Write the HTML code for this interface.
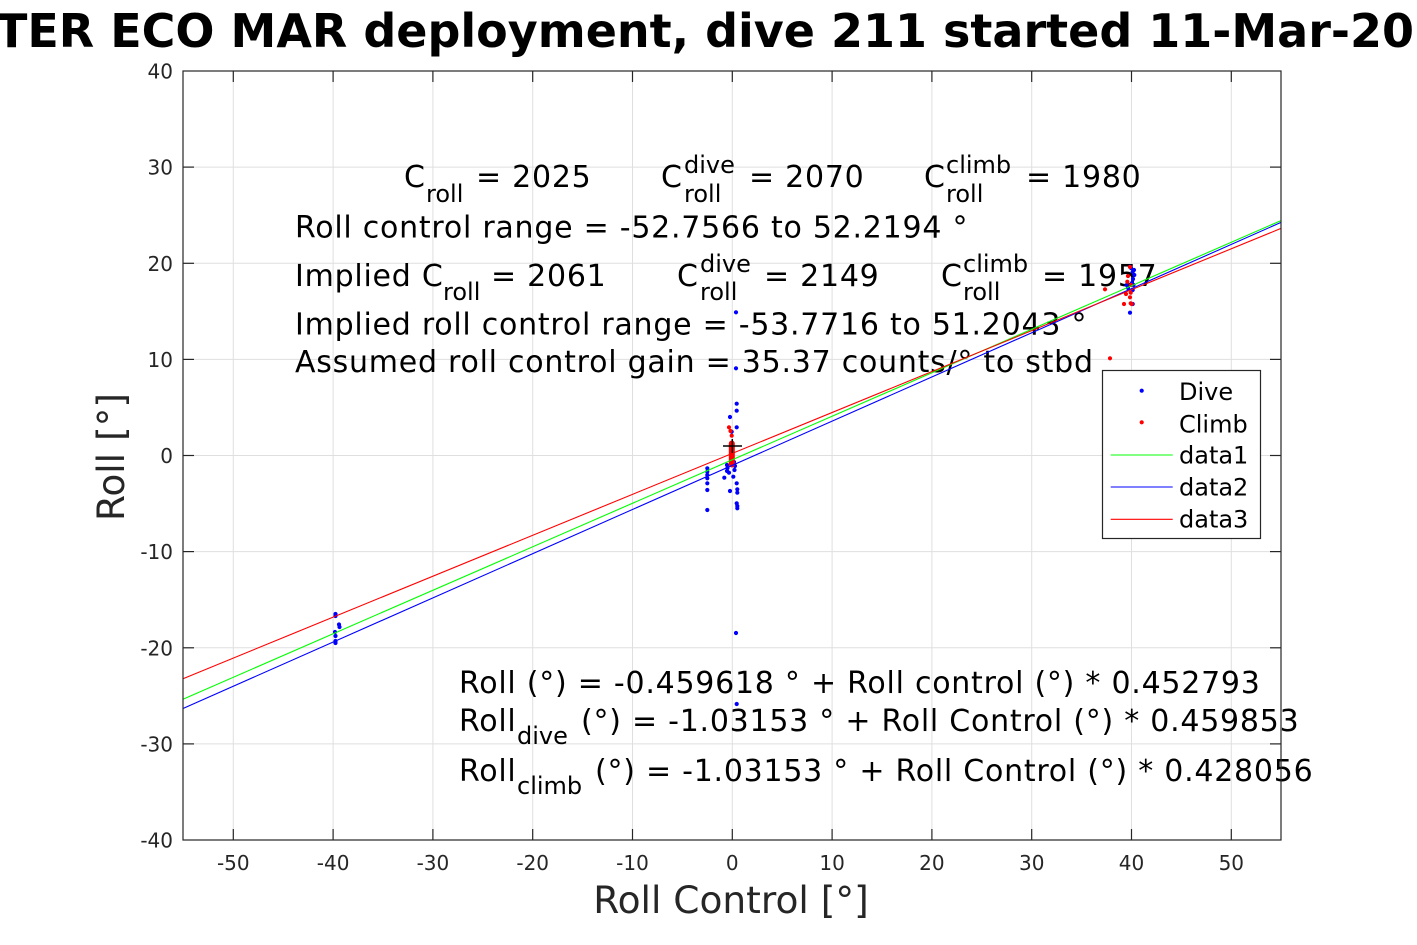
<!DOCTYPE html>
<html><head><meta charset="utf-8"><style>
html,body{margin:0;padding:0;background:#fff;}
svg{display:block;}
.t{font-family:"DejaVu Sans","Liberation Sans",sans-serif;}
.ann{font-size:30px;letter-spacing:0.75px;fill:#000;}
.sub{font-size:24px;fill:#000;}
.tick{font-size:20px;fill:#262626;}
</style></head><body>
<svg width="1417" height="945" viewBox="0 0 1417 945" xmlns="http://www.w3.org/2000/svg" class="t">
<rect width="1417" height="945" fill="#fff"/>
<!-- grid -->
<g stroke="#dfdfdf" stroke-width="1">
<line x1="233.3" y1="71" x2="233.3" y2="840"/><line x1="333.1" y1="71" x2="333.1" y2="840"/><line x1="432.9" y1="71" x2="432.9" y2="840"/><line x1="532.7" y1="71" x2="532.7" y2="840"/><line x1="632.5" y1="71" x2="632.5" y2="840"/><line x1="732.3" y1="71" x2="732.3" y2="840"/><line x1="832.1" y1="71" x2="832.1" y2="840"/><line x1="931.9" y1="71" x2="931.9" y2="840"/><line x1="1031.7" y1="71" x2="1031.7" y2="840"/><line x1="1131.5" y1="71" x2="1131.5" y2="840"/><line x1="1231.3" y1="71" x2="1231.3" y2="840"/>
<line x1="183" y1="167.1" x2="1281" y2="167.1"/><line x1="183" y1="263.3" x2="1281" y2="263.3"/><line x1="183" y1="359.4" x2="1281" y2="359.4"/><line x1="183" y1="455.5" x2="1281" y2="455.5"/><line x1="183" y1="551.6" x2="1281" y2="551.6"/><line x1="183" y1="647.8" x2="1281" y2="647.8"/><line x1="183" y1="743.9" x2="1281" y2="743.9"/>
</g>
<!-- annotation texts -->
<g class="ann">
<text x="404" y="187">C</text>
<text x="476" y="187">= 2025</text>
<text x="661" y="187">C</text>
<text x="749" y="187">= 2070</text>
<text x="924" y="187">C</text>
<text x="1026" y="187">= 1980</text>
<text x="295" y="237.5">Roll control range = -52.7566 to 52.2194 °</text>
<text x="295" y="286">Implied C</text>
<text x="491" y="286">= 2061</text>
<text x="677" y="286">C</text>
<text x="764" y="286">= 2149</text>
<text x="941" y="286">C</text>
<text x="1042" y="286">= 1957</text>
<text x="295" y="334.5">Implied roll control range = -53.7716 to 51.2043 °</text>
<text x="295" y="372">Assumed roll control gain = 35.37 counts/° to stbd</text>
<text x="459" y="693">Roll (°) = -0.459618 ° + Roll control (°) * 0.452793</text>
<text x="459" y="731">Roll</text>
<text x="581" y="731">(°) = -1.03153 ° + Roll Control (°) * 0.459853</text>
<text x="459" y="781">Roll</text>
<text x="595" y="781">(°) = -1.03153 ° + Roll Control (°) * 0.428056</text>
</g>
<g class="sub">
<text x="426" y="202">roll</text>
<text x="684" y="173">dive</text>
<text x="684" y="202">roll</text>
<text x="946" y="173">climb</text>
<text x="946" y="202">roll</text>
<text x="443" y="300">roll</text>
<text x="700" y="272">dive</text>
<text x="700" y="300">roll</text>
<text x="963" y="272">climb</text>
<text x="963" y="300">roll</text>
<text x="517" y="744">dive</text>
<text x="517" y="794">climb</text>
</g>
<!-- dive points -->
<g fill="#0000ff">
<circle cx="335.5" cy="614" r="2.1"/><circle cx="335.5" cy="616" r="2.1"/><circle cx="339" cy="624.5" r="2.1"/><circle cx="339.5" cy="627" r="2.1"/><circle cx="335" cy="632" r="2.1"/><circle cx="335.5" cy="636" r="2.1"/><circle cx="335.5" cy="641" r="2.1"/><circle cx="335.5" cy="643" r="2.1"/>
<circle cx="707.3" cy="468.3" r="2.1"/><circle cx="707.3" cy="471.7" r="2.1"/><circle cx="707.3" cy="475" r="2.1"/><circle cx="707.3" cy="478.3" r="2.1"/><circle cx="707.3" cy="483.3" r="2.1"/><circle cx="707.3" cy="490" r="2.1"/><circle cx="707.3" cy="510" r="2.1"/>
<circle cx="736" cy="312.3" r="2.1"/><circle cx="736" cy="368.3" r="2.1"/><circle cx="736.7" cy="403.7" r="2.1"/><circle cx="736.7" cy="410.7" r="2.1"/><circle cx="730" cy="417" r="2.1"/><circle cx="736.7" cy="427.3" r="2.1"/><circle cx="731.7" cy="431.7" r="2.1"/>
<circle cx="724.3" cy="477.7" r="2.1"/><circle cx="729" cy="472.7" r="2.1"/><circle cx="733.3" cy="476.7" r="2.1"/><circle cx="730" cy="491" r="2.1"/><circle cx="736.7" cy="483.3" r="2.1"/><circle cx="737.3" cy="489.3" r="2.1"/><circle cx="737.3" cy="492.7" r="2.1"/><circle cx="736.7" cy="503.3" r="2.1"/><circle cx="737.3" cy="506" r="2.1"/><circle cx="737.3" cy="508.3" r="2.1"/>
<circle cx="727" cy="465" r="2.1"/><circle cx="727.5" cy="468" r="2.1"/><circle cx="727" cy="471" r="2.1"/><circle cx="734" cy="462" r="2.1"/><circle cx="734.5" cy="470" r="2.1"/><circle cx="735" cy="466" r="2.1"/>
<circle cx="736" cy="633" r="2.1"/><circle cx="736.7" cy="704" r="2.1"/>
<circle cx="1130" cy="266.7" r="2.1"/><circle cx="1132.7" cy="271.7" r="2.1"/><circle cx="1134.3" cy="275" r="2.1"/><circle cx="1133" cy="279" r="2.1"/><circle cx="1132" cy="283" r="2.1"/><circle cx="1126.7" cy="285" r="2.1"/><circle cx="1132.7" cy="290" r="2.1"/><circle cx="1132.7" cy="304" r="2.1"/><circle cx="1130" cy="312.7" r="2.1"/><circle cx="1128" cy="288" r="2.1"/><circle cx="1131" cy="268" r="2.1"/><circle cx="1134" cy="270" r="2.1"/><circle cx="1133.5" cy="285" r="2.1"/>
</g>
<!-- climb points -->
<g fill="#ff0000">
<circle cx="729" cy="427.3" r="2.1"/><circle cx="731.7" cy="435.7" r="2.1"/><circle cx="730.5" cy="431" r="2.1"/>
<rect x="728.8" y="440.5" width="6" height="27" rx="3" ry="3"/>
<circle cx="1105" cy="289.3" r="2.1"/><circle cx="1130" cy="267" r="2.1"/><circle cx="1127.3" cy="281.7" r="2.1"/><circle cx="1126" cy="294" r="2.1"/><circle cx="1130.7" cy="292.7" r="2.1"/><circle cx="1130" cy="297.3" r="2.1"/><circle cx="1124" cy="304" r="2.1"/><circle cx="1130.7" cy="303.3" r="2.1"/><circle cx="1131.7" cy="304" r="2.1"/><circle cx="1110" cy="358.3" r="2.1"/><circle cx="1128" cy="276" r="2.1"/><circle cx="1131" cy="285" r="2.1"/>
</g>
<!-- fit lines -->
<g stroke-width="1.1" fill="none">
<line x1="183" y1="699.2" x2="1281" y2="220.6" stroke="#00ff00"/>
<line x1="183" y1="708.5" x2="1281" y2="222.4" stroke="#0000ff"/>
<line x1="183" y1="678.7" x2="1281" y2="228.4" stroke="#ff0000"/>
</g>
<!-- black cross -->
<g stroke="#000" stroke-width="1.5">
<line x1="723" y1="446" x2="742" y2="446"/><line x1="732.3" y1="439" x2="732.3" y2="453"/>
</g>
<!-- axes box and ticks -->
<rect x="183" y="71" width="1098" height="769" fill="none" stroke="#262626" stroke-width="1.2"/>
<g stroke="#262626" stroke-width="1.2">
<line x1="233.3" y1="840" x2="233.3" y2="829"/><line x1="333.1" y1="840" x2="333.1" y2="829"/><line x1="432.9" y1="840" x2="432.9" y2="829"/><line x1="532.7" y1="840" x2="532.7" y2="829"/><line x1="632.5" y1="840" x2="632.5" y2="829"/><line x1="732.3" y1="840" x2="732.3" y2="829"/><line x1="832.1" y1="840" x2="832.1" y2="829"/><line x1="931.9" y1="840" x2="931.9" y2="829"/><line x1="1031.7" y1="840" x2="1031.7" y2="829"/><line x1="1131.5" y1="840" x2="1131.5" y2="829"/><line x1="1231.3" y1="840" x2="1231.3" y2="829"/>
<line x1="233.3" y1="71" x2="233.3" y2="82"/><line x1="333.1" y1="71" x2="333.1" y2="82"/><line x1="432.9" y1="71" x2="432.9" y2="82"/><line x1="532.7" y1="71" x2="532.7" y2="82"/><line x1="632.5" y1="71" x2="632.5" y2="82"/><line x1="732.3" y1="71" x2="732.3" y2="82"/><line x1="832.1" y1="71" x2="832.1" y2="82"/><line x1="931.9" y1="71" x2="931.9" y2="82"/><line x1="1031.7" y1="71" x2="1031.7" y2="82"/><line x1="1131.5" y1="71" x2="1131.5" y2="82"/><line x1="1231.3" y1="71" x2="1231.3" y2="82"/>
<line x1="183" y1="167.1" x2="194" y2="167.1"/><line x1="183" y1="263.3" x2="194" y2="263.3"/><line x1="183" y1="359.4" x2="194" y2="359.4"/><line x1="183" y1="455.5" x2="194" y2="455.5"/><line x1="183" y1="551.6" x2="194" y2="551.6"/><line x1="183" y1="647.8" x2="194" y2="647.8"/><line x1="183" y1="743.9" x2="194" y2="743.9"/>
<line x1="1281" y1="167.1" x2="1270" y2="167.1"/><line x1="1281" y1="263.3" x2="1270" y2="263.3"/><line x1="1281" y1="359.4" x2="1270" y2="359.4"/><line x1="1281" y1="455.5" x2="1270" y2="455.5"/><line x1="1281" y1="551.6" x2="1270" y2="551.6"/><line x1="1281" y1="647.8" x2="1270" y2="647.8"/><line x1="1281" y1="743.9" x2="1270" y2="743.9"/>
</g>
<!-- tick labels -->
<g class="tick" text-anchor="middle">
<text x="233.3" y="870">-50</text><text x="333.1" y="870">-40</text><text x="432.9" y="870">-30</text><text x="532.7" y="870">-20</text><text x="632.5" y="870">-10</text><text x="732.3" y="870">0</text><text x="832.1" y="870">10</text><text x="931.9" y="870">20</text><text x="1031.7" y="870">30</text><text x="1131.5" y="870">40</text><text x="1231.3" y="870">50</text>
</g>
<g class="tick" text-anchor="end">
<text x="173" y="78.5">40</text><text x="173" y="174.6">30</text><text x="173" y="270.8">20</text><text x="173" y="366.9">10</text><text x="173" y="463">0</text><text x="173" y="559.1">-10</text><text x="173" y="655.3">-20</text><text x="173" y="751.4">-30</text><text x="173" y="847.5">-40</text>
</g>
<!-- axis labels -->
<text x="731" y="913" text-anchor="middle" font-size="37.5" fill="#262626">Roll Control [°]</text>
<text transform="translate(124,457) rotate(-90)" text-anchor="middle" font-size="37.5" fill="#262626">Roll [°]</text>
<!-- legend -->
<rect x="1102.5" y="370.5" width="158" height="168" fill="#fff" stroke="#262626" stroke-width="1.2"/>
<circle cx="1141.7" cy="390.7" r="2.1" fill="#0000ff"/>
<circle cx="1141.7" cy="422.3" r="2.1" fill="#ff0000"/>
<line x1="1110.7" y1="455" x2="1172.7" y2="455" stroke="#00ff00" stroke-width="1.1"/>
<line x1="1110.7" y1="487" x2="1172.7" y2="487" stroke="#0000ff" stroke-width="1.1"/>
<line x1="1110.7" y1="519.3" x2="1172.7" y2="519.3" stroke="#ff0000" stroke-width="1.1"/>
<g font-size="24" fill="#000">
<text x="1179" y="400">Dive</text>
<text x="1179" y="432.7">Climb</text>
<text x="1179" y="463.3">data1</text>
<text x="1179" y="495.7">data2</text>
<text x="1179" y="527.3">data3</text>
</g>
<!-- title -->
<text x="-4" y="47" font-size="46" font-weight="bold" fill="#000">TER ECO MAR deployment, dive 211 started 11-Mar-2019</text>
</svg>
</body></html>
